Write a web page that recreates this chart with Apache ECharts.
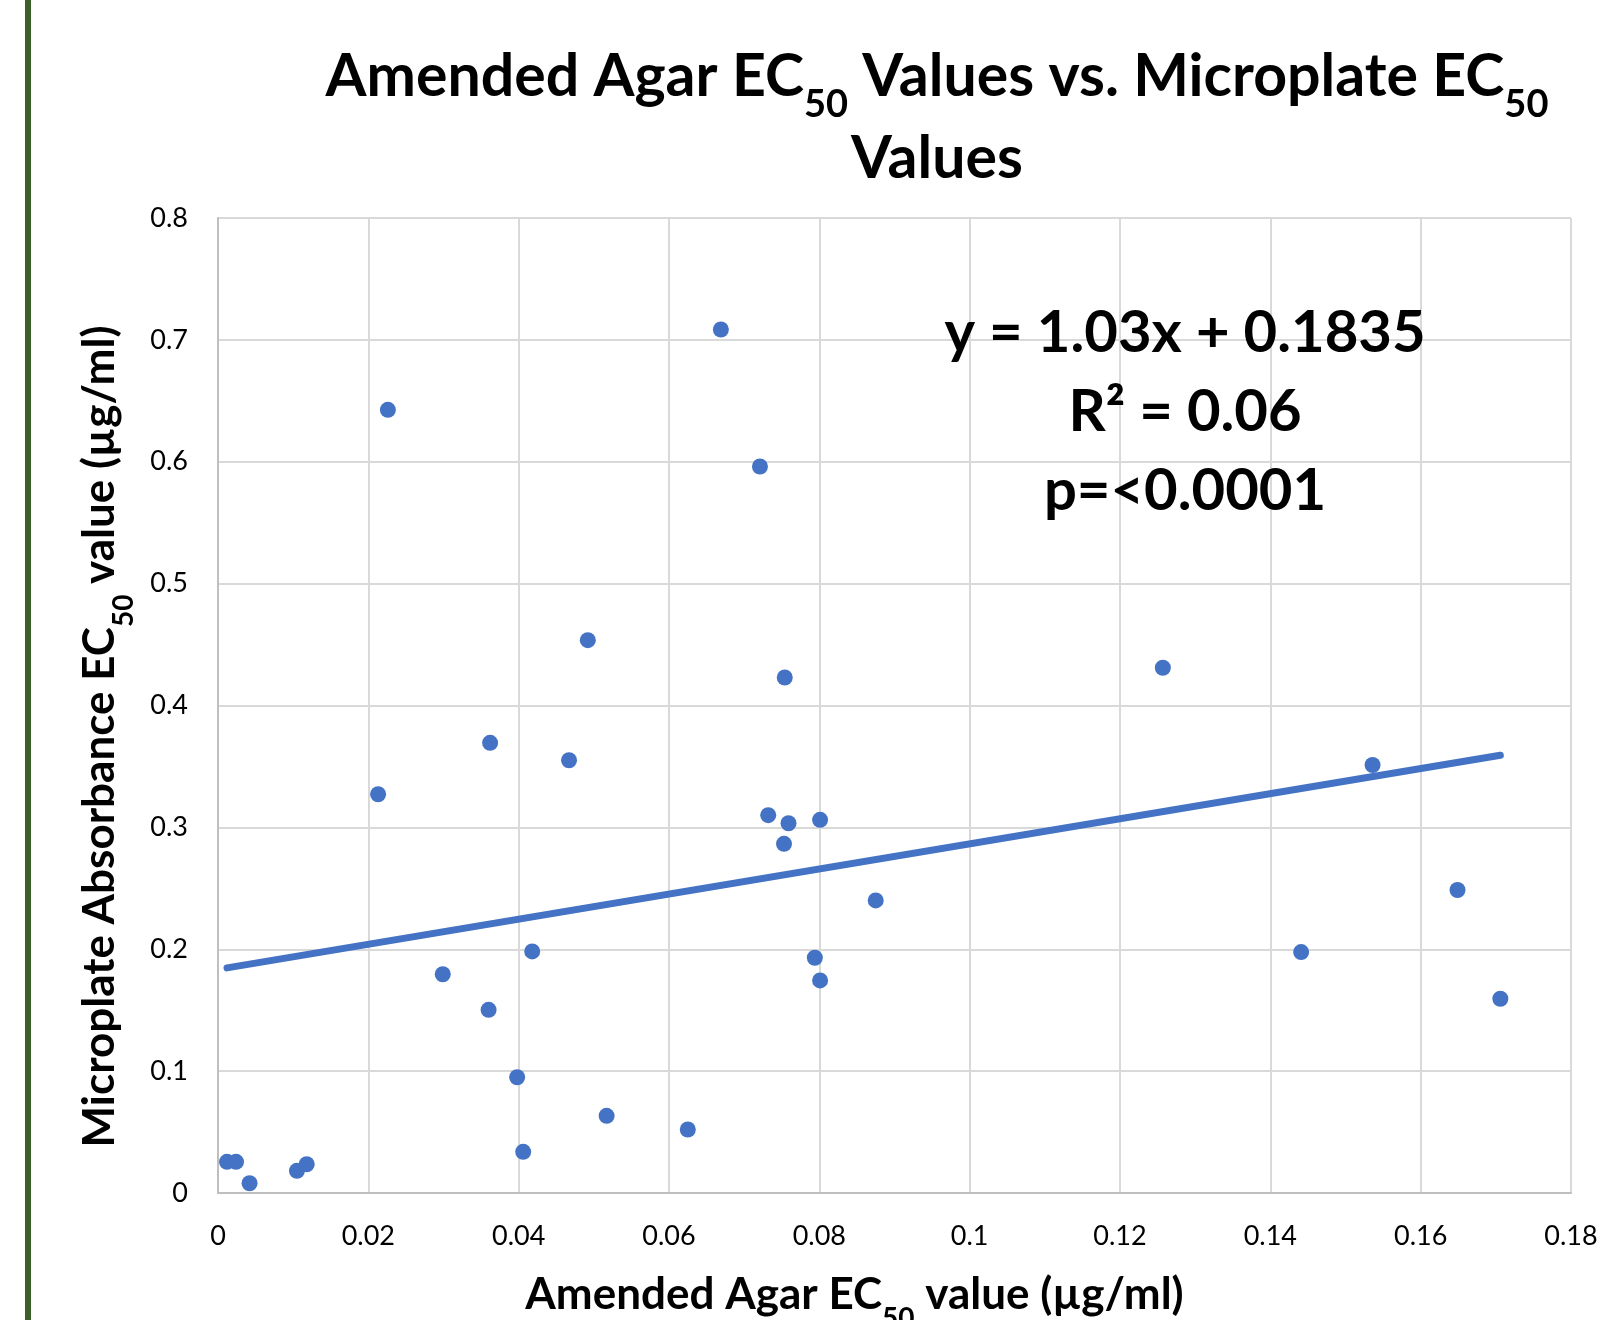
<!DOCTYPE html>
<html>
<head>
<meta charset="utf-8">
<title>Amended Agar EC50 vs Microplate EC50</title>
<script src="https://cdn.jsdelivr.net/npm/echarts@6/dist/echarts.min.js"></script>
<style>
  html, body { margin: 0; padding: 0; background: #fff; }
  #main { width: 1604px; height: 1320px; }
</style>
</head>
<body>
<div id="main"></div>
<script>
// EC50 per isolate, ug/ml: amended agar (x) and microplate absorbance (y)
const agarEC50 = [0.0012, 0.0024, 0.0042, 0.0105, 0.0118, 0.0213, 0.0226, 0.0299,
  0.0360, 0.0362, 0.0398, 0.0406, 0.0418, 0.0467, 0.0492, 0.0517, 0.0625, 0.0669,
  0.0721, 0.0732, 0.0754, 0.0753, 0.0759, 0.0794, 0.0801, 0.0801, 0.0875, 0.1257,
  0.1441, 0.1536, 0.1649, 0.1706];
const plateEC50 = [0.0256, 0.0256, 0.0080, 0.0182, 0.0236, 0.3272, 0.6426, 0.1795,
  0.1503, 0.3694, 0.0950, 0.0338, 0.1982, 0.3551, 0.4536, 0.0633, 0.0521, 0.7085,
  0.5961, 0.3100, 0.4230, 0.2865, 0.3034, 0.1930, 0.3062, 0.1744, 0.2401, 0.4310,
  0.1977, 0.3512, 0.2486, 0.1594];

// linear trendline end points (y = 1.03x + 0.1835)
const trendX = [0.0012, 0.1706];
const trendY = [0.1847, 0.3592];

const xTickLabels = ['0', '0.02', '0.04', '0.06', '0.08', '0.1', '0.12', '0.14', '0.16', '0.18'];
const yTickLabels = ['0', '0.1', '0.2', '0.3', '0.4', '0.5', '0.6', '0.7', '0.8'];

const fitLines = ['y = 1.03x + 0.1835', 'R\u00b2 = 0.06', 'p=<0.0001'];

const FONT = 'Lato, "Open Sans", sans-serif';
const BLUE = '#4472c4';

var chartDom = document.getElementById('main');
var myChart = echarts.init(chartDom);
var option;

const points = agarEC50.map((x, i) => [x, plateEC50[i]]);
const trend = trendX.map((x, i) => [x, trendY[i]]);

// subscript style for axis titles
const axisSub = { fontFamily: FONT, fontWeight: 'bold', fontSize: 28, lineHeight: 28, padding: [48, 0, 0, 0], color: '#000' };

option = {
  backgroundColor: '#fff',
  animation: false,
  title: [
    {
      text: 'Amended Agar EC{sub|50} Values vs. Microplate EC{sub|50}\nValues',
      left: 937,
      top: 36,
      padding: 0,
      textAlign: 'center',
      textStyle: {
        fontFamily: FONT,
        fontWeight: 'bold',
        fontSize: 59,
        lineHeight: 82,
        color: '#000',
        rich: {
          sub: { fontFamily: FONT, fontWeight: 'bold', fontSize: 38, lineHeight: 26, padding: [56, 0, 0, 0], color: '#000' }
        }
      }
    },
    {
      text: fitLines.join('\n'),
      left: 1185,
      top: 294,
      padding: 0,
      textAlign: 'center',
      textStyle: {
        fontFamily: FONT,
        fontWeight: 'bold',
        fontSize: 58,
        lineHeight: 79,
        color: '#000'
      }
    }
  ],
  graphic: [
    {
      type: 'rect',
      shape: { x: 25, y: 0, width: 6, height: 1320 },
      style: { fill: '#3d5f2c' },
      silent: true
    }
  ],
  grid: {
    left: 218,
    top: 218,
    right: 33,
    bottom: 127,
    containLabel: false,
    outerBoundsMode: 'none'
  },
  xAxis: {
    type: 'value',
    min: 0,
    max: 0.18,
    interval: 0.02,
    name: 'Amended Agar EC{sub|50} value (\u00b5g/ml)',
    nameLocation: 'middle',
    nameGap: 64,
    nameTextStyle: {
      fontFamily: FONT,
      fontWeight: 'bold',
      fontSize: 44,
      lineHeight: 76,
      color: '#000',
      padding: [0, 80, 0, 0],
      rich: { sub: axisSub }
    },
    axisLine: { lineStyle: { color: '#bfbfbf', width: 2 } },
    axisTick: { show: false },
    splitLine: { lineStyle: { color: '#d9d9d9', width: 2 } },
    axisLabel: {
      margin: 30,
      fontFamily: FONT,
      fontSize: 27,
      color: '#000',
      formatter: (v, i) => xTickLabels[i]
    }
  },
  yAxis: {
    type: 'value',
    min: 0,
    max: 0.8,
    interval: 0.1,
    name: 'Microplate Absorbance EC{sub|50} value (\u00b5g/ml)',
    nameLocation: 'middle',
    nameGap: 80,
    nameTextStyle: {
      fontFamily: FONT,
      fontWeight: 'bold',
      fontSize: 44,
      lineHeight: 76,
      color: '#000',
      padding: [0, 62, 0, 0],
      rich: { sub: axisSub }
    },
    axisLine: { show: true, lineStyle: { color: '#bfbfbf', width: 2 } },
    axisTick: { show: false },
    splitLine: { lineStyle: { color: '#d9d9d9', width: 2 } },
    axisLabel: {
      margin: 30,
      fontFamily: FONT,
      fontSize: 27,
      color: '#000',
      formatter: (v, i) => yTickLabels[i]
    }
  },
  series: [
    {
      name: 'EC50',
      type: 'scatter',
      data: points,
      symbol: 'circle',
      symbolSize: 16,
      itemStyle: { color: BLUE, opacity: 1 },
      z: 3
    },
    {
      name: 'Linear fit',
      type: 'line',
      data: trend,
      showSymbol: false,
      symbol: 'none',
      lineStyle: { color: BLUE, width: 7, cap: 'round' },
      z: 2
    }
  ]
};

option && myChart.setOption(option);
</script>
</body>
</html>
